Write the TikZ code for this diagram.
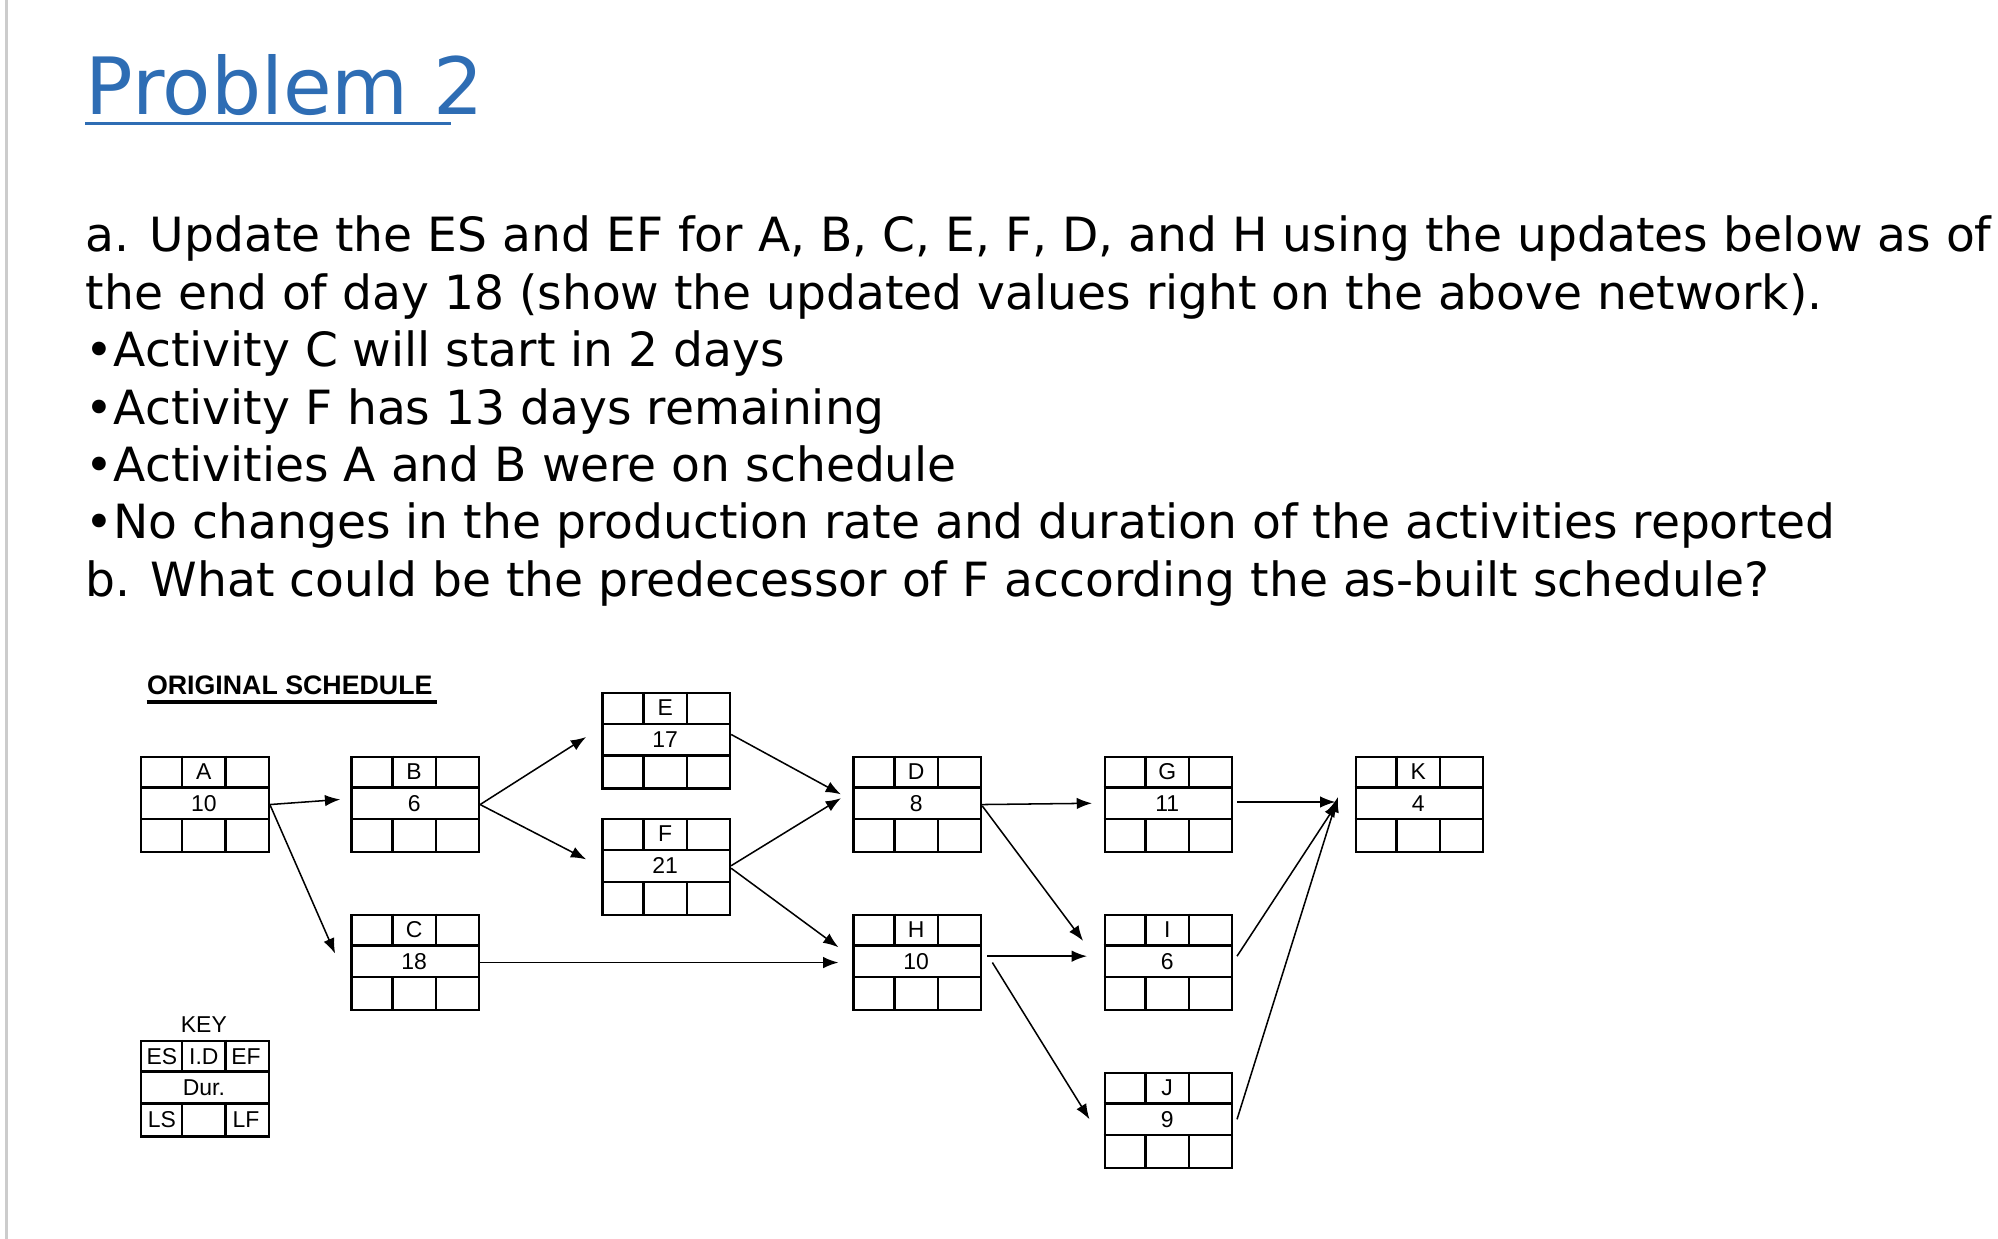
\documentclass[tikz,border=0pt]{standalone}
\usepackage{fontspec}
\setmainfont{DejaVu Sans}
\newfontfamily\arialf{Liberation Sans}
\usetikzlibrary{calc,arrows.meta}
\definecolor{titleblue}{HTML}{2E6DB4}
\tikzset{
  boxline/.style={line width=0.9pt},
  conn/.style={line width=0.6pt,-{Latex[length=6pt,width=4.5pt]}},
  celltxt/.style={font=\arialf\fontsize{9}{10}\selectfont,inner sep=0pt},
  bodytxt/.style={anchor=base west,inner sep=0pt,font=\fontsize{18.5}{22}\selectfont}
}
\newcommand\actbox[4]{%
  \node[boxline,draw,minimum width=50pt,minimum height=37.5pt,anchor=north west,inner sep=0pt] (#1) at (#2) {};
  \draw[boxline] ($(#1.north west)+(0,25)$) -- ($(#1.north east)+(0,25)$);
  \draw[boxline] ($(#1.north west)+(0,50)$) -- ($(#1.north east)+(0,50)$);
  \draw[boxline] ($(#1.north west)+(33,0)$) -- ($(#1.north west)+(33,25)$);
  \draw[boxline] ($(#1.north west)+(67,0)$) -- ($(#1.north west)+(67,25)$);
  \draw[boxline] ($(#1.north west)+(33,50)$) -- ($(#1.north west)+(33,75)$);
  \draw[boxline] ($(#1.north west)+(67,50)$) -- ($(#1.north west)+(67,75)$);
  \node[celltxt] (#1id) at ($(#1.north west)+(50,12.5)$) {#3};
  \node[celltxt] (#1du) at ($(#1.north west)+(50,37.5)$) {#4};
}
\begin{document}
\begin{tikzpicture}[x=0.5pt,y=-0.5pt]
\useasboundingbox (0,0) rectangle (1568,972);
\clip (0,0) rectangle (1568,972);
\fill[white] (0,0) rectangle (1568,972);
\draw[gray!40,line width=1pt] (5,0) -- (5,972);
\node[anchor=base west,inner sep=0pt,text=titleblue,font=\fontsize{31}{36}\selectfont] (title) at (67,90) {Problem 2};
\draw[titleblue,line width=1.2pt] (67,97) -- (354,97);
\node[bodytxt] (l1) at (67,197) {a. Update the ES and EF for A, B, C, E, F, D, and H using the updates below as of};
\node[bodytxt] (l2) at (67,243) {the end of day 18 (show the updated values right on the above network).};
\node[bodytxt] (l3) at (67,288) {•Activity C will start in 2 days};
\node[bodytxt] (l4) at (67,333) {•Activity F has 13 days remaining};
\node[bodytxt] (l5) at (67,378) {•Activities A and B were on schedule};
\node[bodytxt] (l6) at (67,423) {•No changes in the production rate and duration of the activities reported};
\node[bodytxt] (l7) at (67,468) {b. What could be the predecessor of F according the as-built schedule?};
\node[anchor=base west,inner sep=0pt,font=\arialf\bfseries\fontsize{10.5}{12}\selectfont] (os) at (115,545) {ORIGINAL SCHEDULE};
\draw[line width=1.5pt] (115,551) -- (343,551);
\actbox{A}{110,593}{A}{10}
\actbox{B}{275,593}{B}{6}
\actbox{C}{275,717}{C}{18}
\actbox{E}{472,543}{E}{17}
\actbox{F}{472,642}{F}{21}
\actbox{D}{669,593}{D}{8}
\actbox{H}{669,717}{H}{10}
\actbox{G}{866,593}{G}{11}
\actbox{I}{866,717}{I}{6}
\actbox{J}{866,841}{J}{9}
\actbox{K}{1063,593}{K}{4}
% key
\node[boxline,draw,minimum width=50pt,minimum height=37.5pt,anchor=north west,inner sep=0pt] (KEY) at (110,816) {};
\draw[boxline] ($(KEY.north west)+(0,25)$) -- ($(KEY.north east)+(0,25)$);
\draw[boxline] ($(KEY.north west)+(0,50)$) -- ($(KEY.north east)+(0,50)$);
\draw[boxline] ($(KEY.north west)+(33,0)$) -- ($(KEY.north west)+(33,25)$);
\draw[boxline] ($(KEY.north west)+(67,0)$) -- ($(KEY.north west)+(67,25)$);
\draw[boxline] ($(KEY.north west)+(33,50)$) -- ($(KEY.north west)+(33,75)$);
\draw[boxline] ($(KEY.north west)+(67,50)$) -- ($(KEY.north west)+(67,75)$);
\node[celltxt] (kt) at (160,804) {KEY};
\node[celltxt] (kes) at (127,829) {ES};
\node[celltxt] (kid) at (160,829) {I.D};
\node[celltxt] (kef) at (193,829) {EF};
\node[celltxt] (kdu) at (160,854) {Dur.};
\node[celltxt] (kls) at (127,879) {LS};
\node[celltxt] (klf) at (193,879) {LF};
% connectors
\draw[conn] (A.east) -- ($(B.west)+(-8,-4)$);
\draw[conn] (A.east) -- ($(C.west)+(-12,-7)$);
\draw[conn] (B.east) -- ($(E.west)+(-12,-3)$);
\draw[conn] (B.east) -- ($(F.west)+(-12,-6)$);
\draw[conn] ($(E.east)+(0,-5)$) -- ($(D.west)+(-9,-8)$);
\draw[conn] ($(F.east)+(0,-1)$) -- ($(D.west)+(-9,-5)$);
\draw[conn] ($(F.east)+(0,1)$) -- ($(H.west)+(-11,-12)$);
\draw[conn] (C.east) -- ($(H.west)+(-11,0)$);
\draw[conn] (D.east) -- ($(G.west)+(-9,-1)$);
\draw[conn] ($(D.east)+(0,1)$) -- ($(I.west)+(-16,-17)$);
\draw[conn] ($(H.east)+(4,-5)$) -- ($(I.west)+(-13,-5)$);
\draw[conn] ($(H.east)+(8,0)$) -- ($(J.west)+(-11,-1)$);
\draw[conn] ($(G.east)+(3,-2)$) -- ($(K.west)+(-15,-2)$);
\draw[conn] ($(I.east)+(3,-5)$) -- ($(K.west)+(-13,-2)$);
\draw[conn] ($(J.east)+(3,-1)$) -- ($(K.west)+(-13,-6)$);
\end{tikzpicture}
\end{document}
